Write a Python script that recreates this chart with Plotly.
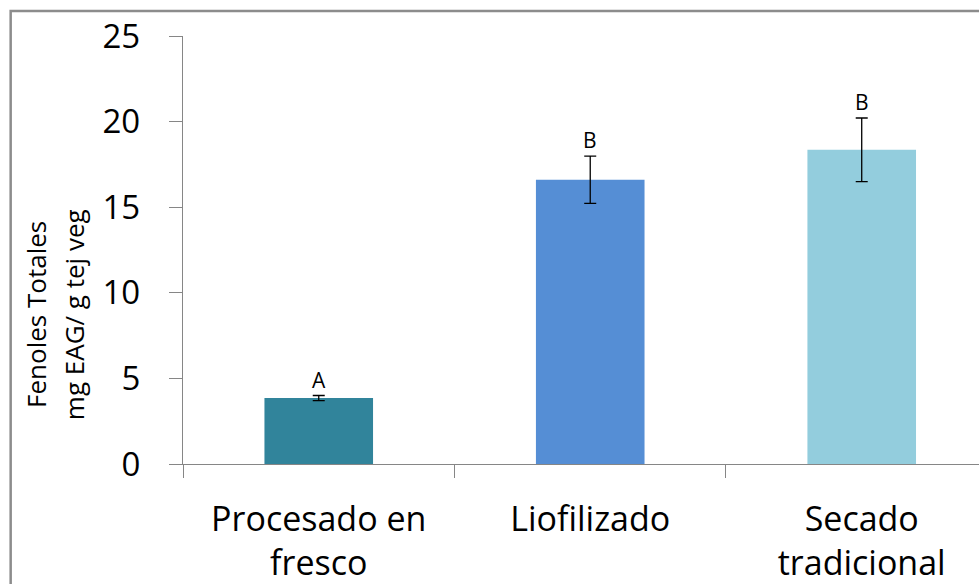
import plotly.graph_objects as go

# Fenoles totales por tratamiento (mg EAG / g tejido vegetal)
categorias = ["Procesado en<br>fresco", "Liofilizado", "Secado<br>tradicional"]
valores = [3.85, 16.6, 18.35]
errores = [0.15, 1.38, 1.86]
letras = ["A", "B", "B"]
colores = ["#31849B", "#558ED5", "#93CDDD"]
y_ticks = [0, 5, 10, 15, 20, 25]
titulo_y = ["Fenoles Totales", "mg EAG/ g tej veg"]

eje_color = "#868686"
fuente = "Open Sans"

fig = go.Figure()
fig.add_trace(go.Bar(
    x=categorias,
    y=valores,
    marker=dict(color=colores, line=dict(width=0)),
    width=0.4,
    error_y=dict(type="data", array=errores, visible=True,
                 color="black", thickness=1.3, width=6),
))

for cat, v, e, l in zip(categorias, valores, errores, letras):
    fig.add_annotation(x=cat, y=v + e, text=l, showarrow=False,
                       yanchor="bottom", yshift=0,
                       font=dict(family=fuente, size=21, color="black"))

# título del eje y en dos líneas, rotado
for xp, linea in zip([-0.185, -0.137], titulo_y):
    fig.add_annotation(xref="paper", yref="paper", x=xp, y=0.35,
                       text=linea, textangle=-90, showarrow=False,
                       xanchor="center", yanchor="middle",
                       font=dict(family=fuente, size=26, color="black"))

# marco exterior de la figura
fig.add_shape(type="rect", xref="paper", yref="paper",
              x0=-0.2165, x1=1.1, y0=-0.6, y1=1.0584,
              line=dict(color="#8c8c8c", width=2.5), fillcolor="rgba(0,0,0,0)")

fig.update_layout(
    width=979, height=584,
    margin=dict(l=183, r=0, t=36, b=120),
    paper_bgcolor="white", plot_bgcolor="white",
    showlegend=False,
    font=dict(family=fuente, color="black"),
    xaxis=dict(
        range=[-0.5, 2.432],
        showline=True, linecolor=eje_color, linewidth=1.3,
        ticks="outside", tickson="boundaries", ticklen=13,
        tickcolor=eje_color, tickwidth=1.3,
        ticklabelstandoff=25,
        tickfont=dict(family=fuente, size=34, color="black"),
        showgrid=False, zeroline=False,
    ),
    yaxis=dict(
        range=[0, 25], tickvals=y_ticks,
        showline=True, linecolor=eje_color, linewidth=1.3,
        ticks="outside", ticklen=13, tickcolor=eje_color, tickwidth=1.3,
        ticklabelstandoff=22,
        tickfont=dict(family=fuente, size=33, color="black"),
        showgrid=False, zeroline=False,
    ),
)

fig.write_html("out.html")
